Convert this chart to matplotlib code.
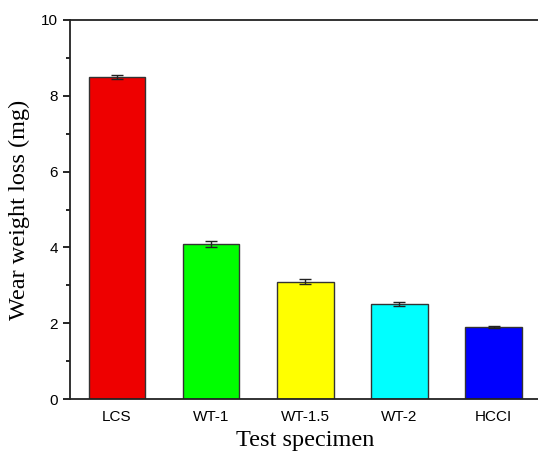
import numpy as np
import matplotlib
matplotlib.use("Agg")
import matplotlib.pyplot as plt
from matplotlib.ticker import MultipleLocator

# data
specimens = ['LCS', 'WT-1', 'WT-1.5', 'WT-2', 'HCCI']
weight_loss = [8.5, 4.1, 3.1, 2.5, 1.9]
errors = [0.05, 0.08, 0.06, 0.05, 0.03]
bar_colors = ['#EE0000', '#00FF00', '#FFFF00', '#00FFFF', '#0000FF']

fig = plt.figure(figsize=(5.38, 4.53), dpi=100)
ax = fig.add_axes([0.130, 0.119, 0.875, 0.837])

x = np.arange(len(specimens))
ax.bar(x, weight_loss, width=0.6, color=bar_colors, edgecolor='#333333', linewidth=1.0,
       yerr=errors, capsize=4, error_kw=dict(ecolor='#222222', elinewidth=1, capthick=1))

ax.set_xlim(-0.5, len(specimens) - 0.5)
ax.set_ylim(0, 10)
ax.set_xticks(x)
ax.set_xticklabels(specimens, fontfamily='Liberation Sans', fontsize=11)
ax.yaxis.set_major_locator(MultipleLocator(2))
ax.yaxis.set_minor_locator(MultipleLocator(1))
for lab in ax.get_yticklabels():
    lab.set_fontfamily('Liberation Sans')
    lab.set_fontsize(11)

ax.tick_params(axis='x', length=0, pad=8)
ax.tick_params(axis='y', which='major', direction='out', length=5, width=1.2)
ax.tick_params(axis='y', which='minor', direction='out', length=3, width=1.2)

for s in ax.spines.values():
    s.set_linewidth(1.3)
    s.set_color('#222222')

ax.set_xlabel('Test specimen', fontfamily='Liberation Serif', fontsize=17.5, labelpad=4)
ax.set_ylabel('Wear weight loss (mg)', fontfamily='Liberation Serif', fontsize=17.5, labelpad=8)

fig.savefig('out.png', dpi=100)
